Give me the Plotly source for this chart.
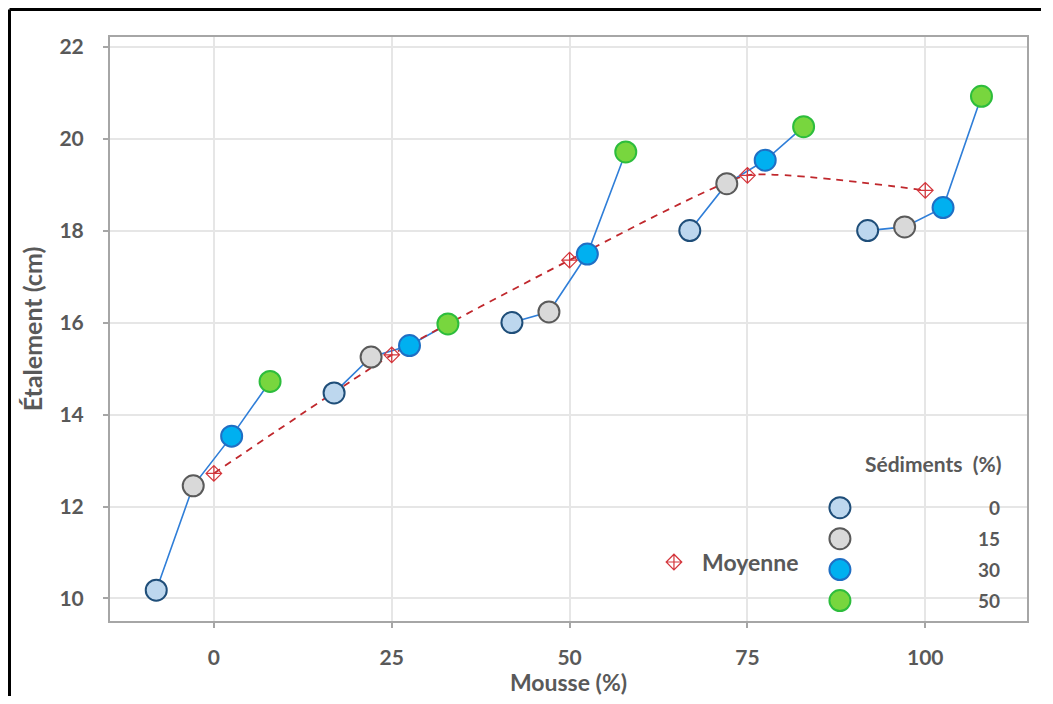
import plotly.graph_objects as go

# ---------------- data ----------------
mousse = [0, 25, 50, 75, 100]                # Mousse (%)
sediments = ["0", "15", "30", "50"]          # Sédiments (%)
sed0 = [10.18, 14.47, 16.00, 18.00, 18.00]
sed15 = [12.45, 15.25, 16.23, 19.02, 18.08]
sed30 = [13.53, 15.50, 17.49, 19.53, 18.50]
sed50 = [14.72, 15.97, 19.71, 20.26, 20.92]
series = [sed0, sed15, sed30, sed50]
moyenne = [sum(v[i] for v in series) / len(series) for i in range(len(mousse))]

# ---------------- styles / layout constants ----------------
DODGE = [-8.1, -2.9, 2.5, 7.9]
FILL = ["#bdd7ee", "#d9d9d9", "#00b0f0", "#78d63e"]
EDGE = ["#1f4e79", "#5a5a5a", "#1f6fc4", "#2dbd3c"]
CONNECT = "#2f7ed8"
RED = "#c0282d"
TXT = "#595959"
FONT = "Lato"

W, H = 1037, 688
ML, MR, MT, MB = 102, 18, 29, 75
PW, PH = W - ML - MR, H - MT - MB

fig = go.Figure()

# connecting lines inside each Mousse group
for gi, m in enumerate(mousse):
    fig.add_trace(go.Scatter(
        x=[m + d for d in DODGE], y=[s[gi] for s in series],
        mode="lines", line=dict(color=CONNECT, width=1.6),
        showlegend=False, hoverinfo="skip"))

# mean curve
fig.add_trace(go.Scatter(
    x=mousse, y=moyenne, mode="lines+markers", name="Moyenne",
    line=dict(color=RED, width=1.8, dash="7px,6px", shape="spline", smoothing=0.45),
    marker=dict(symbol="diamond-cross-open", size=12, color="#d4363c",
                line=dict(width=1.2, color="#d4363c")),
    showlegend=False))

# sediment points
for k, (lab, vals) in enumerate(zip(sediments, series)):
    fig.add_trace(go.Scatter(
        x=[m + DODGE[k] for m in mousse], y=vals, mode="markers", name=lab,
        marker=dict(size=21, color=FILL[k], line=dict(width=2, color=EDGE[k])),
        showlegend=False))

# ---------------- custom legend (overlay axes in paper fractions) ----------------
leg_y = [0.194, 0.141, 0.088, 0.035]
leg_x = 0.796
for k, lab in enumerate(sediments):
    fig.add_trace(go.Scatter(
        x=[leg_x], y=[leg_y[k]], xaxis="x2", yaxis="y2", mode="markers",
        marker=dict(size=21, color=FILL[k], line=dict(width=2, color=EDGE[k])),
        showlegend=False, hoverinfo="skip"))
fig.add_trace(go.Scatter(
    x=[0.615], y=[0.101], xaxis="x2", yaxis="y2", mode="markers",
    marker=dict(symbol="diamond-cross-open", size=12, color="#d4363c",
                line=dict(width=1.2, color="#d4363c")),
    showlegend=False, hoverinfo="skip"))

annotations = [
    dict(x=0.9738, y=0.2705, xref="paper", yref="paper", text="Sédiments  (%)",
         showarrow=False, xanchor="right", yanchor="middle",
         font=dict(family=FONT, size=21, color=TXT, weight="bold")),
    dict(x=0.6434, y=0.101, xref="paper", yref="paper", text="Moyenne",
         showarrow=False, xanchor="left", yanchor="middle",
         font=dict(family=FONT, size=23, color=TXT, weight="bold")),
]
for k, lab in enumerate(sediments):
    annotations.append(dict(
        x=0.9727, y=leg_y[k], xref="paper", yref="paper", text=lab,
        showarrow=False, xanchor="right", yanchor="middle",
        font=dict(family=FONT, size=19, color=TXT, weight="bold")))

fx = -(ML - 1.5) / PW
fy = 1 + (MT - 1.5) / PH
fx_right = 1 + (MR - 4) / PW
shapes = [
    # white boxes behind the legend (hide gridlines)
    dict(type="rect", xref="paper", yref="paper", x0=0.820, x1=0.992, y0=0.002, y1=0.315,
         fillcolor="white", line=dict(width=0), layer="between"),
    dict(type="rect", xref="paper", yref="paper", x0=0.594, x1=0.758, y0=0.053, y1=0.151,
         fillcolor="white", line=dict(width=0), layer="between"),
    # outer black frame (top and left visible)
    dict(type="line", xref="paper", yref="paper", x0=fx, x1=fx_right, y0=fy, y1=fy,
         line=dict(color="black", width=3), layer="above"),
    dict(type="line", xref="paper", yref="paper", x0=fx, x1=fx, y0=-MB / PH, y1=fy,
         line=dict(color="black", width=3), layer="above"),
]

axis_common = dict(
    showline=True, mirror=True, linecolor="#a6a6a6", linewidth=2,
    showgrid=True, gridcolor="#e6e6e6", gridwidth=1.5, zeroline=False,
    ticks="outside", ticklen=5, tickcolor="#a6a6a6", tickwidth=1.5,
    tickfont=dict(family=FONT, size=21, color=TXT, weight="bold"),
    automargin=False,
)

fig.update_layout(
    width=W, height=H,
    margin=dict(l=ML, r=MR, t=MT, b=MB),
    paper_bgcolor="white", plot_bgcolor="white",
    xaxis=dict(range=[-14.6, 114.3], tickvals=mousse, ticklabelstandoff=12,
               title=dict(text="Mousse (%)", standoff=6,
                          font=dict(family=FONT, size=23, color=TXT, weight="bold")),
               **axis_common),
    yaxis=dict(range=[9.51, 22.21], tickvals=[10, 12, 14, 16, 18, 20, 22], ticklabelstandoff=15,
               title=dict(text="Étalement (cm)", standoff=10,
                          font=dict(family=FONT, size=25, color=TXT, weight="bold")),
               **axis_common),
    xaxis2=dict(domain=[0, 1], range=[0, 1], overlaying="x", visible=False, fixedrange=True),
    yaxis2=dict(domain=[0, 1], range=[0, 1], overlaying="y", visible=False, fixedrange=True),
    annotations=annotations,
    shapes=shapes,
    showlegend=False,
)

fig.write_html("out.html")
